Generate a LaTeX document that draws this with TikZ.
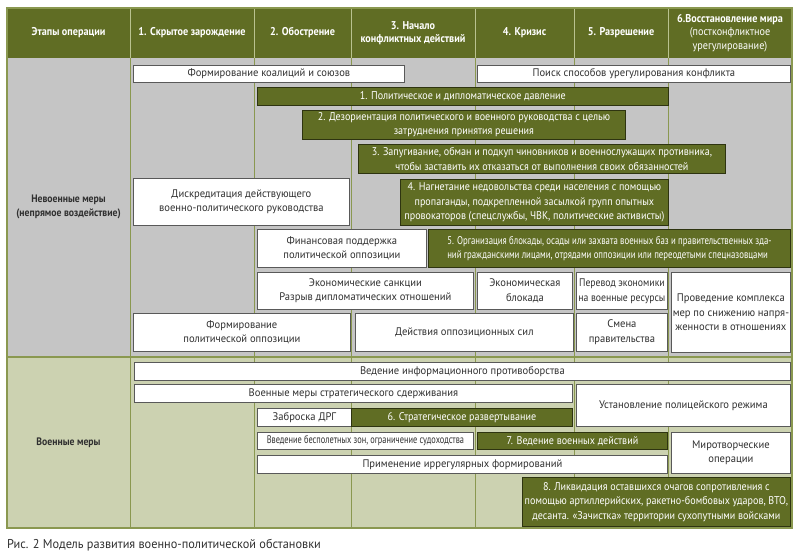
\documentclass[tikz,border=0pt]{standalone}
\usepackage{fontspec}
\setmainfont{PT Sans}[FakeStretch=0.96]
\newfontfamily\narrowfont{PT Sans}[FakeStretch=0.9]
\usepackage{graphicx}
\definecolor{olive}{HTML}{606D24}
\definecolor{olivedark}{HTML}{2E3410}
\definecolor{oliveline}{HTML}{8A9850}
\definecolor{headline}{HTML}{B9C28F}
\definecolor{grayfill}{HTML}{C5C5C5}
\definecolor{milfill}{HTML}{CCD2B1}
\definecolor{ink}{HTML}{303030}

\begin{document}
\begin{tikzpicture}[x = 1pt, y = -1pt, font = \fontsize{11}{14.5}\selectfont,
  cell/.style = {anchor = north west, inner sep = 1pt, align = center},
  wbox/.style = {cell, draw = ink!80, fill = white, text = ink, line width = 0.8pt},
  obox/.style = {cell, draw = olivedark, fill = olive, text = white, line width = 0.8pt,
    font = \narrowfont\fontsize{11.2}{14.5}\selectfont},
  head/.style = {text = white, font = \narrowfont\fontsize{11.3}{13.5}\selectfont\bfseries, align = center},
  side/.style = {text = ink, font = \narrowfont\fontsize{10.8}{14.5}\selectfont\bfseries, align = center}]
  \useasboundingbox (0,0) rectangle (800,555);

  % table background
  \fill[grayfill] (7,58) rectangle (792,357);
  \fill[milfill] (7,357) rectangle (792,528);
  \fill[olive] (7,8) rectangle (792,58);
  \foreach \x in {130,254,351,475,574,668}
    \draw[oliveline, line width = 1pt] (\x,58) -- (\x,528);
  \foreach \x in {130,254,351,475,574,668}
    \draw[headline, line width = 1pt] (\x,8) -- (\x,58);
  \draw[oliveline, line width = 1.2pt] (7,357) -- (792,357);
  \draw[oliveline, line width = 1.2pt] (7,8) rectangle (792,528);

  % header
  \node[head] (stage0) at (68.5,33) {Этапы операции};
  \node[head] (stage1) at (192,33) {1. Скрытое зарождение};
  \node[head] (stage2) at (302.5,33) {2. Обострение};
  \node[head] (stage3) at (413,33) {3. Начало\\конфликтных действий};
  \node[head] (stage4) at (524.5,33) {4. Кризис};
  \node[head] (stage5) at (621,33) {5. Разрешение};
  \node[head] (stage6) at (730,33) {6.Восстановление мира\\{\mdseries(постконфликтное}\\{\mdseries урегулирование)}};

  % row labels
  \node[side] (nonmil) at (68.5,207) {Невоенные меры\\(непрямое воздействие)};
  \node[side] (mil) at (68.5,443) {Военные меры};

  % non-military measures
  \node[wbox, minimum width = 271pt, minimum height = 17pt] (coalitions) at (133,65) {Формирование коалиций и союзов};
  \node[wbox, minimum width = 313pt, minimum height = 17pt] (search) at (477,65) {Поиск способов урегулирования конфликта};
  \node[obox, minimum width = 411pt, minimum height = 18pt] (pressure) at (257,87) {1. Политическое и дипломатическое давление};
  \node[obox, minimum width = 323pt, minimum height = 29pt] (disorient) at (302,110) {2. Дезориентация политического и военного руководства с целью\\затруднения принятия решения};
  \node[obox, minimum width = 367pt, minimum height = 29pt] (bribe) at (358,144) {3. Запугивание, обман и подкуп чиновников и военнослужащих противника,\\чтобы заставить их отказаться от выполнения своих обязанностей};
  \node[wbox, minimum width = 216pt, minimum height = 47pt] (discredit) at (133,178) {Дискредитация действующего\\военно-политического руководства};
  \node[obox, minimum width = 268pt, minimum height = 46pt] (discontent) at (400,179) {4. Нагнетание недовольства среди населения с помощью\\пропаганды, подкрепленной засылкой групп опытных\\провокаторов (спецслужбы, ЧВК, политические активисты)};
  \node[wbox, minimum width = 169pt, minimum height = 38pt] (finsup) at (257,229) {Финансовая поддержка\\политической оппозиции};
  \node[obox, minimum width = 362pt, minimum height = 38pt] (blockade) at (428,229) {\scalebox{0.87}[1]{\begin{tabular}{@{}l@{}}5. Организация блокады, осады или захвата военных баз и правительственных зда-\\ний гражданскими лицами, отрядами оппозиции или переодетыми спецназовцами\end{tabular}}};
  \node[wbox, minimum width = 216pt, minimum height = 37pt] (sanctions) at (257,272) {Экономические санкции\\Разрыв дипломатических отношений};
  \node[wbox, minimum width = 95pt, minimum height = 37pt] (econblock) at (477,272) {Экономическая\\блокада};
  \node[wbox, minimum width = 91pt, minimum height = 37pt] (econwar) at (576,272) {\scalebox{0.92}[1]{\begin{tabular}{@{}c@{}}Перевод экономики\\на военные ресурсы\end{tabular}}};
  \node[wbox, minimum width = 119pt, minimum height = 80pt] (detente) at (671,272) {Проведение комплекса\\мер по снижению напря-\\женности в отношениях};
  \node[wbox, minimum width = 217pt, minimum height = 38pt] (opform) at (133,313) {Формирование\\политической оппозиции};
  \node[wbox, minimum width = 218pt, minimum height = 38pt] (opforce) at (355,313) {Действия оппозиционных сил};
  \node[wbox, minimum width = 91pt, minimum height = 38pt] (govchange) at (576,313) {Смена\\правительства};

  % military measures
  \node[wbox, minimum width = 656pt, minimum height = 18pt] (infowar) at (134,362) {Ведение информационного противоборства};
  \node[wbox, minimum width = 438pt, minimum height = 18pt] (deterrence) at (134,384) {Военные меры стратегического сдерживания};
  \node[wbox, minimum width = 214pt, minimum height = 42pt] (police) at (576,384) {Установление полицейского режима};
  \node[wbox, minimum width = 94pt, minimum height = 18pt] (drg) at (257,408) {Заброска ДРГ};
  \node[obox, minimum width = 221pt, minimum height = 18pt] (deploy) at (351,408) {6. Стратегическое развертывание};
  \node[wbox, minimum width = 216pt, minimum height = 17pt] (nofly) at (257,432) {\scalebox{0.79}[1]{Введение бесполетных зон, ограничение судоходства}};
  \node[obox, minimum width = 190pt, minimum height = 17pt] (warfare) at (477,432) {7. Ведение военных действий};
  \node[wbox, minimum width = 119pt, minimum height = 41pt] (peacekeep) at (671,432) {Миротворческие\\операции};
  \node[wbox, minimum width = 410pt, minimum height = 18pt] (irregular) at (257,455) {Применение иррегулярных формирований};
  \node[obox, minimum width = 268pt, minimum height = 49pt] (mopup) at (522,477) {8. Ликвидация оставшихся очагов сопротивления с\\помощью артиллерийских, ракетно-бомбовых ударов, ВТО,\\десанта. «Зачистка» территории сухопутными войсками};

  % caption
  \node[anchor = west, inner sep = 0pt, text = ink, font = \fontsize{12.8}{15}\selectfont] (caption) at (7,545) {Рис. 2 Модель развития военно-политической обстановки};
\end{tikzpicture}
\end{document}
